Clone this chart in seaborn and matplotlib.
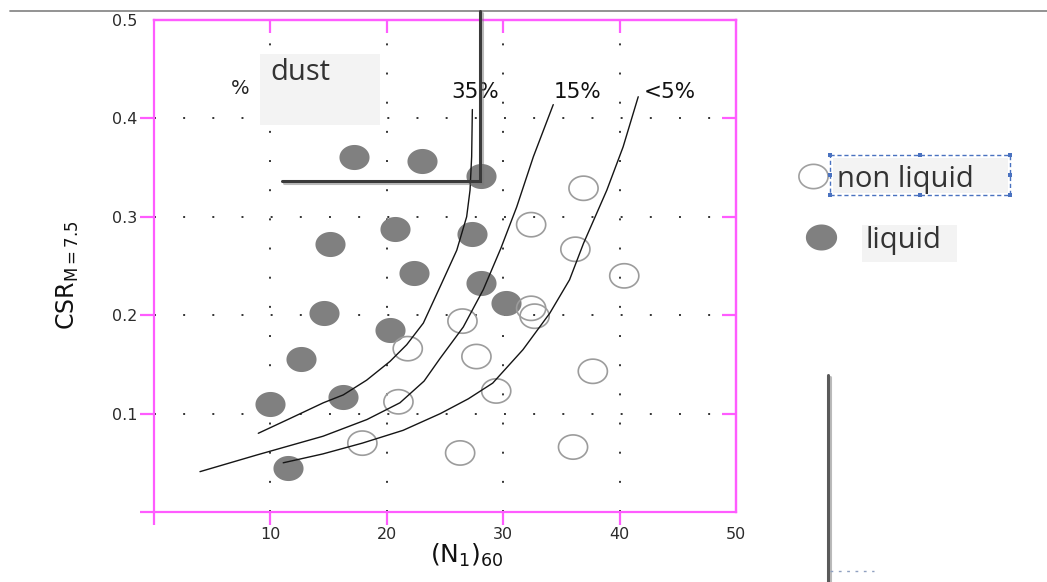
import numpy as np
import pandas as pd
import matplotlib
matplotlib.use("Agg")
import matplotlib.pyplot as plt
import matplotlib.patheffects as pe
import seaborn as sns
from matplotlib.path import Path
from matplotlib.lines import Line2D
from matplotlib.patches import Rectangle
from matplotlib.transforms import Affine2D

# ---- case histories: (N1)60 and cyclic stress ratio ----
liquid_n160 = [17.2, 23.0, 28.1, 15.1, 20.7, 27.3, 22.3, 28.1, 30.2, 14.6, 20.3, 12.6, 16.2, 10.0, 11.5]
liquid_csr = [0.361, 0.357, 0.341, 0.272, 0.288, 0.283, 0.243, 0.233, 0.212, 0.202, 0.185, 0.155, 0.117, 0.110, 0.045]

nonliq_n160 = [36.9, 32.4, 36.2, 40.4, 32.4, 32.7, 26.5, 21.8, 27.7, 37.7, 21.0, 29.4, 17.9, 26.3, 36.0]
nonliq_csr = [0.329, 0.292, 0.267, 0.240, 0.207, 0.199, 0.194, 0.166, 0.158, 0.143, 0.112, 0.123, 0.070, 0.060, 0.066]

# ---- boundary curves for fines content ----
curve35_n = [8.96, 11.68, 14.55, 16.26, 18.27, 20.27, 21.71, 23.14, 24.66, 26.01, 26.86, 27.15, 27.29, 27.35]
curve35_csr = [0.080, 0.095, 0.111, 0.119, 0.134, 0.153, 0.170, 0.192, 0.231, 0.266, 0.300, 0.327, 0.361, 0.409]

curve15_n = [3.95, 8.85, 14.52, 18.3, 21.13, 23.2, 24.57, 26.57, 28.29, 29.8, 31.16, 32.59, 34.30]
curve15_csr = [0.041, 0.058, 0.077, 0.094, 0.111, 0.133, 0.156, 0.188, 0.226, 0.268, 0.310, 0.361, 0.414]

curve5_n = [11.1, 14.5, 17.9, 21.4, 24.6, 27.0, 29.1, 31.7, 34.0, 35.7, 36.9, 38.9, 40.3, 41.6]
curve5_csr = [0.050, 0.059, 0.070, 0.083, 0.100, 0.115, 0.131, 0.165, 0.202, 0.236, 0.273, 0.327, 0.371, 0.422]

curve_labels = ["35%", "15%", "<5%"]
curve_label_n = [27.6, 36.4, 44.3]
curve_label_csr = [0.427, 0.427, 0.427]

x_ticks = [0, 10, 20, 30, 40, 50]
x_ticklabels = ["", "10", "20", "30", "40", "50"]
y_ticks = [0, 0.1, 0.2, 0.3, 0.4, 0.5]
y_ticklabels = ["", "0.1", "0.2", "0.3", "0.4", "0.5"]

PINK = "#ff5cff"
TEXT = "#2b2b2b"
W, H = 1047, 582

sns.set_theme(style="white")
plt.rcParams["font.family"] = ["DejaVu Sans"]

fig = plt.figure(figsize=(W / 100, H / 100), dpi=100)
fig.patch.set_facecolor("white")
ax = fig.add_axes([154 / W, 1 - 512 / H, (736 - 154) / W, (512 - 20) / H])

# pixel-style page transform (origin at top-left of the figure)
page = Affine2D().scale(1 / W, -1 / H).translate(0, 1) + fig.transFigure

# elliptical marker, slightly wider than tall
t = np.linspace(0, 2 * np.pi, 72)
ellipse = Path(np.column_stack([1.2 * np.cos(t), np.sin(t)]), closed=True)

liq = pd.DataFrame({"n160": liquid_n160, "csr": liquid_csr})
non = pd.DataFrame({"n160": nonliq_n160, "csr": nonliq_csr})

sns.scatterplot(data=liq, x="n160", y="csr", ax=ax, marker=ellipse, s=470,
                color="#808080", linewidth=0, zorder=3)
n_before = len(ax.collections)
sns.scatterplot(data=non, x="n160", y="csr", ax=ax, marker=ellipse, s=440,
                color="#9c9c9c", edgecolor="#9c9c9c", linewidth=1.2, zorder=3)
ax.collections[n_before].set_facecolor("none")

for xs, ys in [(curve35_n, curve35_csr), (curve15_n, curve15_csr), (curve5_n, curve5_csr)]:
    sns.lineplot(x=xs, y=ys, ax=ax, sort=False, estimator=None,
                 color="#151515", linewidth=1.0, zorder=4)

for lab, xv, yv in zip(curve_labels, curve_label_n, curve_label_csr):
    ax.text(xv, yv, lab, ha="center", va="center", fontsize=15.5, color="#111111")

ax.set_xlim(0, 50)
ax.set_ylim(0, 0.5)
ax.set_xticks(x_ticks)
ax.set_xticklabels(x_ticklabels)
ax.set_yticks(y_ticks)
ax.set_yticklabels(y_ticklabels)
ax.set_xlabel("")
ax.set_ylabel("")

ax.tick_params(axis="x", bottom=True, direction="out", length=9, width=1.6,
               color=PINK, pad=2, labelsize=11.5, labelcolor=TEXT)
ax.tick_params(axis="y", left=True, direction="out", length=10, width=1.6,
               color=PINK, pad=2, labelsize=11.5, labelcolor=TEXT)
ax.xaxis.get_major_ticks()[-1].tick1line.set_visible(False)
ax.yaxis.get_major_ticks()[-1].tick1line.set_visible(False)

for sp in ax.spines.values():
    sp.set_color(PINK)
    sp.set_linewidth(1.6)

# inward ticks on the top and right frame
top = ax.secondary_xaxis("top")
top.set_xticks([10, 20, 30, 40])
top.tick_params(direction="in", length=9, width=1.6, color=PINK, labeltop=False)
top.spines["top"].set_color(PINK)
top.spines["top"].set_linewidth(1.6)
right = ax.secondary_yaxis("right")
right.set_yticks([0.1, 0.2, 0.3, 0.4])
right.tick_params(direction="in", length=10, width=1.6, color=PINK, labelright=False)
right.spines["right"].set_color(PINK)
right.spines["right"].set_linewidth(1.6)

# sparse dotted grid
ax.grid(True, color="#333333", linestyle=(0, (1, 14)), linewidth=1.4)
ax.set_axisbelow(True)

# axis titles
fig.text(68 / W, 1 - 275 / H, r"CSR$_{\mathregular{M=7.5}}$", rotation=90,
         ha="center", va="center", fontsize=17, color="#111111")
fig.text(467 / W, 1 - 555 / H, r"$\mathregular{(N_1)_{60}}$",
         ha="center", va="center", fontsize=18, color="#111111")

# "% dust" caption
fig.add_artist(Rectangle((260, 54), 120, 71, transform=page, facecolor="#f3f3f3",
                         edgecolor="none", zorder=5))
fig.text(270, 80, "dust", transform=page, fontsize=21, family=["Open Sans", "DejaVu Sans"],
         color="#333333", ha="left", va="baseline", zorder=6)
fig.text(240, 94, "%", transform=page, fontsize=14, color="#222222",
         ha="center", va="baseline", zorder=6)

# legend
fig.add_artist(Line2D([813], [176], transform=page, marker=ellipse, markersize=21,
                      markerfacecolor="none", markeredgecolor="#a0a0a0",
                      markeredgewidth=1.2, linestyle="none"))
fig.add_artist(Rectangle((833, 158), 175, 35, transform=page, facecolor="#f3f3f3",
                         edgecolor="none", zorder=5))
fig.add_artist(Rectangle((830, 155), 180, 40, transform=page, facecolor="none",
                         edgecolor="#4a72c0", linewidth=1.0, linestyle=(0, (3, 2)), zorder=6))
for hx, hy in [(830, 155), (920, 155), (1010, 155), (830, 175), (1010, 175),
               (830, 195), (920, 195), (1010, 195)]:
    fig.add_artist(Rectangle((hx - 2, hy - 2), 4, 4, transform=page, facecolor="#4a72c0",
                             edgecolor="none", zorder=7))
fig.text(837, 187, "non liquid", transform=page, fontsize=21,
         family=["Open Sans", "DejaVu Sans"], color="#333333", ha="left", va="baseline", zorder=8)

fig.add_artist(Line2D([821], [237], transform=page, marker=ellipse, markersize=22.5,
                      markerfacecolor="#808080", markeredgewidth=0, linestyle="none"))
fig.add_artist(Rectangle((862, 225), 95, 37, transform=page, facecolor="#f3f3f3",
                         edgecolor="none", zorder=5))
fig.text(866, 248, "liquid", transform=page, fontsize=21,
         family=["Open Sans", "DejaVu Sans"], color="#333333", ha="left", va="baseline", zorder=8)

# page rules and connector lines
fig.add_artist(Line2D([10, W], [11, 11], transform=page, color="#8a8a8a", linewidth=1.3))
shadow = [pe.SimpleLineShadow(offset=(1.5, -1.5), shadow_color="#777777", alpha=0.5),
          pe.Normal()]
fig.add_artist(Line2D([282, 480, 480], [181, 181, 11], transform=page, color="#3a3a3a",
                      linewidth=2.2, solid_joinstyle="miter", path_effects=shadow, zorder=9))
fig.add_artist(Line2D([828, 828], [375, H], transform=page, color="#5a5a5a",
                      linewidth=2.2, path_effects=shadow, zorder=9))
fig.add_artist(Line2D([830, 874], [571, 571], transform=page, color="#8fa0c0",
                      linewidth=1.0, linestyle=(0, (2, 4)), zorder=9))

fig.savefig("out.png", dpi=100, facecolor="white")
